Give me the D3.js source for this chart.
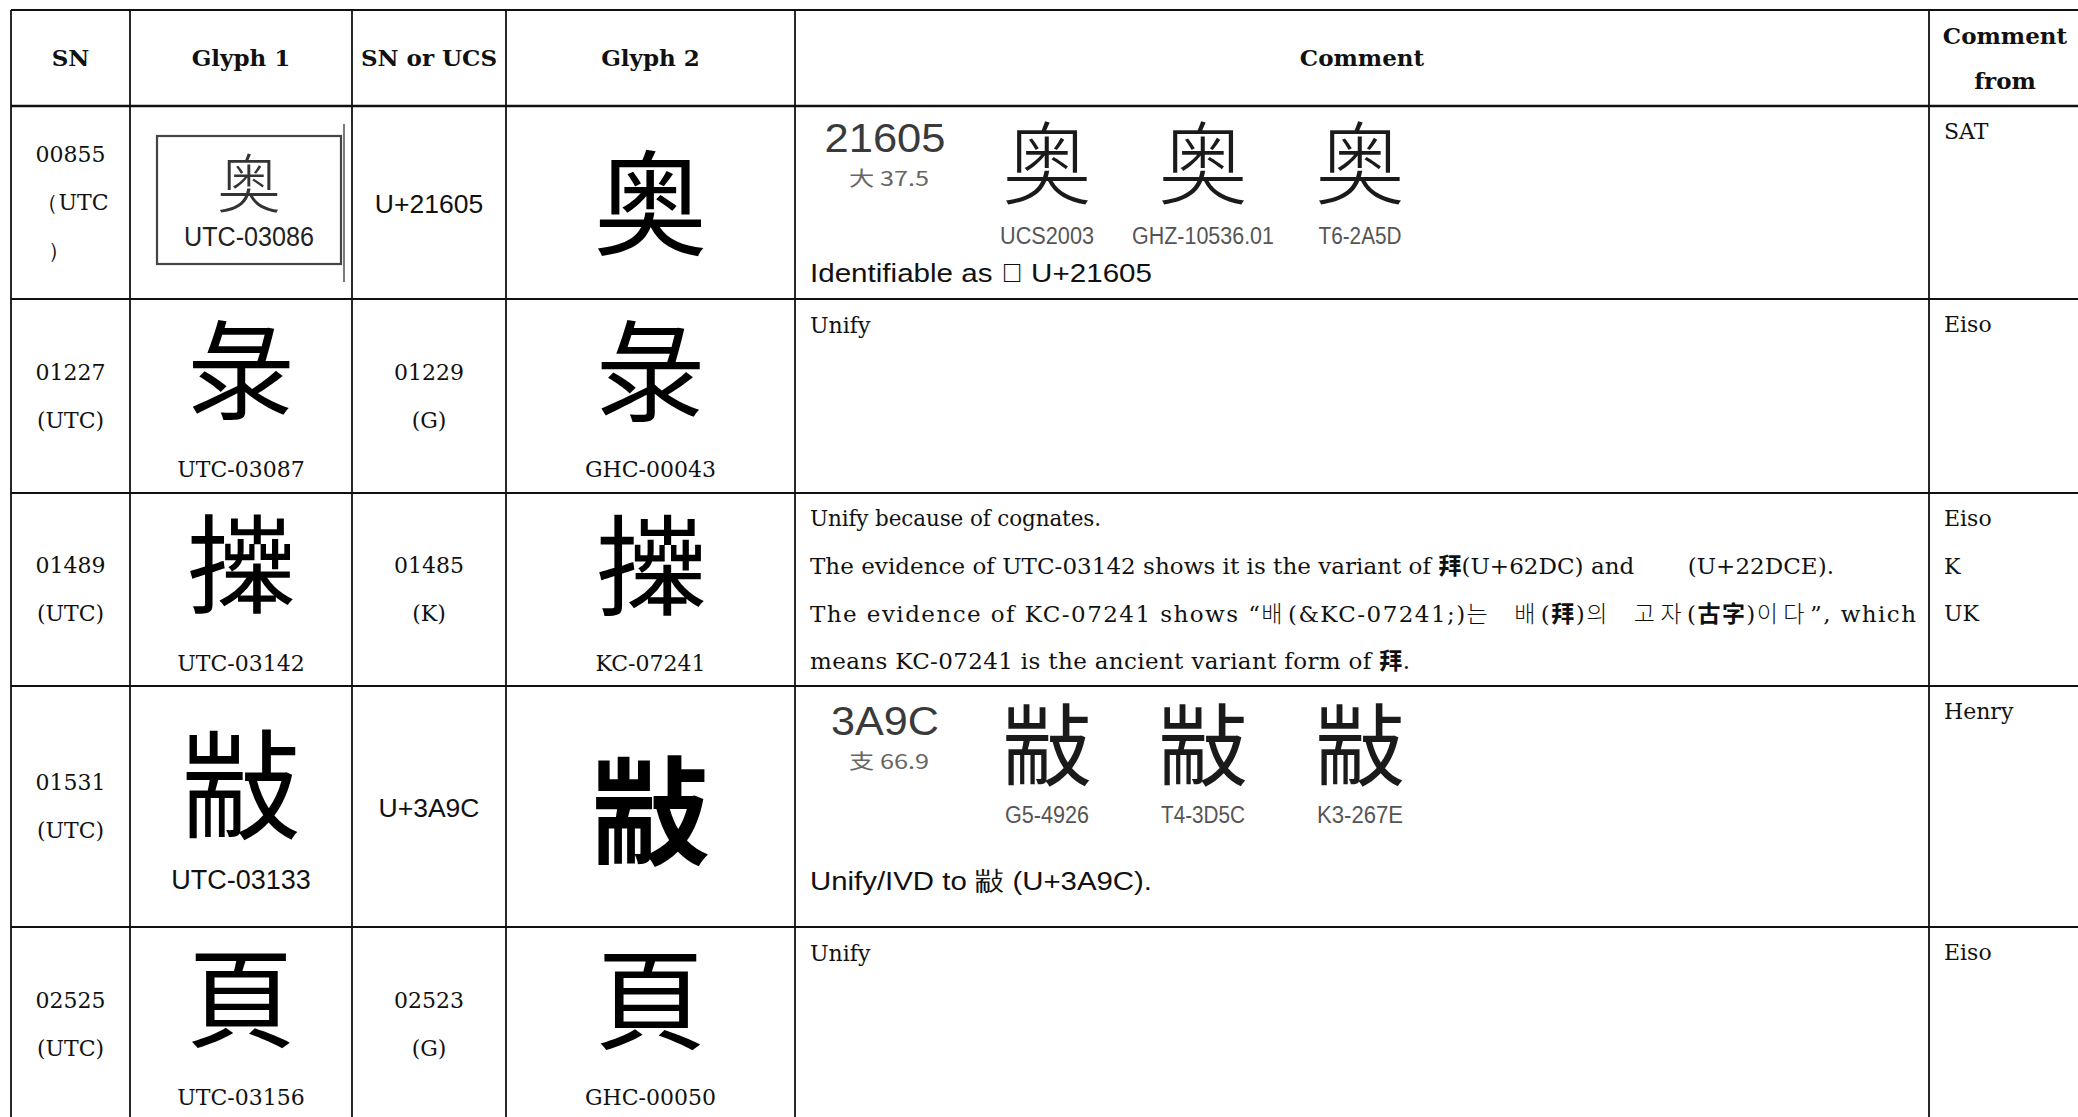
<!DOCTYPE html>
<html><head><meta charset="utf-8">
<script src="https://cdn.jsdelivr.net/npm/d3@7"></script>
<style>
html,body{margin:0;padding:0;background:#fff;}
svg{display:block;}
</style></head>
<body>
<svg id="chart" width="2078" height="1117"></svg>
<script>
// ---------------- data ----------------
const headers = [["SN"], ["Glyph 1"], ["SN or UCS"], ["Glyph 2"], ["Comment"], ["Comment", "from"]];
const snLines = [["00855", "（UTC", "）"], ["01227", "(UTC)"], ["01489", "(UTC)"], ["01531", "(UTC)"], ["02525", "(UTC)"]];
// U+21605 is not in the installed fonts; 奥 is used as its closest drawable look-alike
const glyph1Chars = ["奥", "彔", "𢷎", "㪜", "頁"];
const glyph1Labels = ["UTC-03086", "UTC-03087", "UTC-03142", "UTC-03133", "UTC-03156"];
const matchLines = [["U+21605"], ["01229", "(G)"], ["01485", "(K)"], ["U+3A9C"], ["02523", "(G)"]];
const glyph2Chars = ["奥", "彔", "𢷎", "㪜", "頁"];
const glyph2Labels = ["", "GHC-00043", "KC-07241", "", "GHC-00050"];
const commentFrom = [["SAT"], ["Eiso"], ["Eiso", "K", "UK"], ["Henry"], ["Eiso"]];
const evidenceRows = [0, 3];
const evidenceCodes = ["21605", "3A9C"];
const evidenceRadicals = ["大 37.5", "支 66.9"];
const evidenceGlyphs = [["奥", "奥", "奥"], ["㪜", "㪜", "㪜"]];
const evidenceSources = [["UCS2003", "GHZ-10536.01", "T6-2A5D"], ["G5-4926", "T4-3D5C", "K3-267E"]];
const evidenceNotes = ["Identifiable as 𡘅 U+21605", "Unify/IVD to 㪜 (U+3A9C)."];
const plainComments = [null, ["Unify"], null, null, ["Unify"]];
const row3Comment = [
  [{t: "Unify because of cognates."}],
  [{t: "The evidence of UTC-03142 shows it is the variant of "}, {t: "拜", cjk: true}, {t: "(U+62DC) and \u2003\u2003(U+22DCE)."}],
  [{t: "The evidence of KC-07241 shows “"}, {t: "배", ko: true}, {t: "(&KC-07241;)"}, {t: "는  배", ko: true}, {t: "("}, {t: "拜", cjk: true}, {t: ")"}, {t: "의  고자", ko: true}, {t: "("}, {t: "古字", cjk: true}, {t: ")"}, {t: "이다", ko: true}, {t: "”, which"}],
  [{t: "means KC-07241 is the ancient variant form of "}, {t: "拜", cjk: true}, {t: "."}]
];

// ---------------- layout ----------------
const colKeys = ["sn", "g1", "ucs", "g2", "comment", "from"];
const colEdges = [11, 130, 352, 506, 795, 1929, 2100];
const rowEdges = [10, 106, 299, 493, 686, 927, 1121];
const serif = "'DejaVu Serif', 'Liberation Serif', serif";
const sans = "'Liberation Sans', Arial, sans-serif";
const cjkSC = "'Noto Sans CJK SC', 'Noto Sans CJK TC', 'Noto Sans CJK JP', sans-serif";
const cjkKR = "'Noto Sans CJK KR', 'Noto Sans CJK SC', sans-serif";
const bodySize = 22;

const svg = d3.select("#chart");
const xLeft = d3.scaleOrdinal().domain(colKeys).range(colEdges.slice(0, 6));
const xRight = d3.scaleOrdinal().domain(colKeys).range(colEdges.slice(1));
const xMid = k => (xLeft(k) + xRight(k)) / 2;
const rowIdx = d3.range(6); // 0 = header
const yTop = d3.scaleOrdinal().domain(rowIdx).range(rowEdges.slice(0, 6));
const yBot = d3.scaleOrdinal().domain(rowIdx).range(rowEdges.slice(1));
const yMid = r => (yTop(r) + yBot(r)) / 2;

// ---------------- grid ----------------
const grid = svg.append("g").attr("stroke", "#111");
grid.selectAll("line.h").data(rowEdges.slice(0, 6)).join("line")
  .attr("x1", colEdges[0]).attr("x2", 2078)
  .attr("y1", d => d).attr("y2", d => d)
  .attr("stroke-width", (d, i) => i === 1 ? 2.5 : 2);
grid.selectAll("line.v").data(colEdges.slice(0, 6)).join("line")
  .attr("x1", d => d).attr("x2", d => d)
  .attr("y1", rowEdges[0]).attr("y2", 1117)
  .attr("stroke-width", 1.8);

// ---------------- header ----------------
const head = svg.append("g").attr("font-family", serif).attr("font-weight", "bold")
  .attr("font-size", 23).attr("text-anchor", "middle").attr("fill", "#111");
headers.forEach((lines, i) => {
  const k = colKeys[i];
  const lh = 45;
  lines.forEach((t, j) => {
    head.append("text").attr("x", k === "from" ? xLeft(k) + 76 : xMid(k))
      .attr("y", yMid(0) + (j - (lines.length - 1) / 2) * lh).attr("dy", "0.36em").text(t);
  });
});

// ---------------- helpers ----------------
function lineStack(g, lines, x, cy, lh, anchor, font, size, fill) {
  lines.forEach((t, j) => {
    g.append("text").attr("x", x).attr("y", cy + (j - (lines.length - 1) / 2) * lh)
      .attr("dy", "0.36em").attr("text-anchor", anchor).attr("font-family", font)
      .attr("font-size", size).attr("fill", fill || "#111").text(t);
  });
}
const body = svg.append("g");

// ---------------- SN column ----------------
snLines.forEach((lines, i) => {
  const r = i + 1;
  if (i === 0) {
    lineStack(body, [lines[0]], xMid("sn"), yMid(r) - 48, 48, "middle", serif, bodySize);
    lineStack(body, [lines[1]], xMid("sn") + 2, yMid(r), 48, "middle", serif, bodySize);
    lineStack(body, [lines[2]], xMid("sn") - 12, yMid(r) + 48, 48, "middle", serif, bodySize);
  } else {
    lineStack(body, lines, xMid("sn"), yMid(r), 48, "middle", serif, bodySize);
  }
});

// ---------------- SN or UCS column ----------------
matchLines.forEach((lines, i) => {
  const r = i + 1;
  const isUcs = lines[0].startsWith("U+");
  lineStack(body, lines, xMid("ucs"), yMid(r) + (isUcs ? 1 : 0), 48, "middle", isUcs ? sans : serif, isUcs ? 26.5 : bodySize);
});

// ---------------- Glyph 1 column ----------------
glyph1Chars.forEach((ch, i) => {
  const r = i + 1;
  const cx = xMid("g1");
  if (i === 0) {
    // scanned evidence box
    const bx = xLeft("g1") + 27, by = yTop(r) + 30, bw = 184, bh = 128;
    body.append("rect").attr("x", bx).attr("y", by).attr("width", bw).attr("height", bh)
      .attr("fill", "none").attr("stroke", "#444").attr("stroke-width", 2.2);
    body.append("line").attr("x1", bx + bw + 3).attr("x2", bx + bw + 3)
      .attr("y1", yTop(r) + 18).attr("y2", yTop(r) + 176).attr("stroke", "#222").attr("stroke-width", 1.2);
    body.append("text").attr("x", bx + bw / 2).attr("y", by + 48).attr("dy", "0.36em")
      .attr("text-anchor", "middle").attr("font-family", cjkSC).attr("font-size", 64)
      .attr("font-weight", 300).attr("fill", "#333").text(ch);
    body.append("text").attr("x", bx + bw / 2).attr("y", by + 100).attr("dy", "0.36em")
      .attr("text-anchor", "middle").attr("font-family", sans).attr("font-size", 27)
      .attr("textLength", 130).attr("lengthAdjust", "spacingAndGlyphs")
      .attr("fill", "#222").text(glyph1Labels[i]);
    return;
  }
  const big = i === 3;
  body.append("text").attr("x", cx).attr("y", yTop(r) + (big ? 102 : 73)).attr("dy", "0.36em")
    .attr("text-anchor", "middle").attr("font-family", cjkSC).attr("font-size", big ? 120 : 108)
    .attr("fill", "#000").text(ch);
  body.append("text").attr("x", cx).attr("y", yTop(r) + (big ? 193 : 170)).attr("dy", "0.36em")
    .attr("text-anchor", "middle").attr("font-family", big ? sans : serif).attr("font-size", big ? 27 : bodySize)
    .attr("fill", "#111").text(glyph1Labels[i]);
});

// ---------------- Glyph 2 column ----------------
glyph2Chars.forEach((ch, i) => {
  const r = i + 1;
  const cx = xMid("g2");
  const hasLabel = glyph2Labels[i] !== "";
  body.append("text").attr("x", cx).attr("y", hasLabel ? yTop(r) + 74 : yMid(r) + (i === 3 ? 7 : 2)).attr("dy", "0.36em")
    .attr("text-anchor", "middle").attr("font-family", cjkSC).attr("font-size", i === 3 ? 118 : (hasLabel ? 110 : 114))
    .attr("font-weight", i === 3 ? 700 : 400).attr("fill", "#000").text(ch);
  if (hasLabel) {
    body.append("text").attr("x", cx).attr("y", yTop(r) + 170).attr("dy", "0.36em")
      .attr("text-anchor", "middle").attr("font-family", serif).attr("font-size", bodySize)
      .attr("fill", "#111").text(glyph2Labels[i]);
  }
});

// ---------------- Comment column ----------------
const cx0 = xLeft("comment") + 15;
plainComments.forEach((lines, i) => {
  if (!lines) return;
  const r = i + 1;
  lines.forEach((t, j) => {
    body.append("text").attr("x", cx0).attr("y", yTop(r) + 26 + j * 48).attr("dy", "0.36em")
      .attr("font-family", serif).attr("font-size", bodySize).attr("fill", "#111").text(t);
  });
});
// row 3 multi-script comment
const row3Widths = [291, 1024, 1106, 600];
row3Comment.forEach((parts, j) => {
  const t = body.append("text").attr("x", cx0).attr("y", yTop(3) + 25 + j * 47.7).attr("dy", "0.36em")
    .attr("font-family", serif).attr("font-size", j === 0 ? 21.5 : 23).attr("fill", "#111")
    .attr("textLength", row3Widths[j]).attr("lengthAdjust", "spacing")
    .attr("xml:space", "preserve").style("white-space", "pre");
  parts.forEach(p => {
    const ts = t.append("tspan").text(p.t);
    if (p.cjk) ts.attr("font-family", cjkSC).attr("font-weight", 700);
    if (p.ko) ts.attr("font-family", cjkKR).attr("font-weight", 300).attr("letter-spacing", 4);
  });
});
// evidence images in comment cells (rows 1 and 4)
const evX = [1047, 1203, 1360];
const evW = [94, 142, 83, 84, 84, 86];
const evGlyphDy = [59, 61];
const evGlyphSize = [90, 90];
const evLabelDy = [130, 129];
evidenceRows.forEach((ri, e) => {
  const r = ri + 1;
  const top = yTop(r);
  const off = e === 0 ? 0 : 3;
  body.append("text").attr("x", 885).attr("y", top + 32 + off).attr("dy", "0.36em")
    .attr("text-anchor", "middle").attr("font-family", sans).attr("font-size", 40)
    .attr("fill", "#3a3a3a").attr("textLength", e === 0 ? 121 : 108).attr("lengthAdjust", "spacingAndGlyphs")
    .text(evidenceCodes[e]);
  body.append("text").attr("x", 889).attr("y", top + 73 + off).attr("dy", "0.36em")
    .attr("text-anchor", "middle").attr("font-family", cjkSC).attr("font-size", 20)
    .attr("fill", "#666").attr("textLength", 80).attr("lengthAdjust", "spacingAndGlyphs")
    .text(evidenceRadicals[e]);
  evidenceGlyphs[e].forEach((g, k) => {
    body.append("text").attr("x", evX[k]).attr("y", top + evGlyphDy[e]).attr("dy", "0.36em")
      .attr("text-anchor", "middle").attr("font-family", cjkSC).attr("font-size", evGlyphSize[e])
      .attr("font-weight", e === 0 ? 300 : 400).attr("fill", "#1a1a1a").text(g);
  });
  evidenceSources[e].forEach((s, k) => {
    body.append("text").attr("x", evX[k]).attr("y", top + evLabelDy[e]).attr("dy", "0.36em")
      .attr("text-anchor", "middle").attr("font-family", sans).attr("font-size", 23)
      .attr("fill", "#555").attr("textLength", evW[e * 3 + k]).attr("lengthAdjust", "spacingAndGlyphs")
      .text(s);
  });
  const note = body.append("text").attr("x", cx0).attr("y", top + (e === 0 ? 167 : 195)).attr("dy", "0.36em")
    .attr("font-family", sans).attr("font-size", 26).attr("fill", "#111")
    .attr("textLength", 342).attr("lengthAdjust", "spacingAndGlyphs").style("white-space", "pre");
  note.text(evidenceNotes[e]);
});

// ---------------- Comment from column ----------------
commentFrom.forEach((lines, i) => {
  const r = i + 1;
  lines.forEach((t, j) => {
    body.append("text").attr("x", xLeft("from") + 15).attr("y", yTop(r) + 25 + j * 47.7).attr("dy", "0.36em")
      .attr("font-family", serif).attr("font-size", bodySize).attr("fill", "#111").text(t);
  });
});
</script>
</body></html>
